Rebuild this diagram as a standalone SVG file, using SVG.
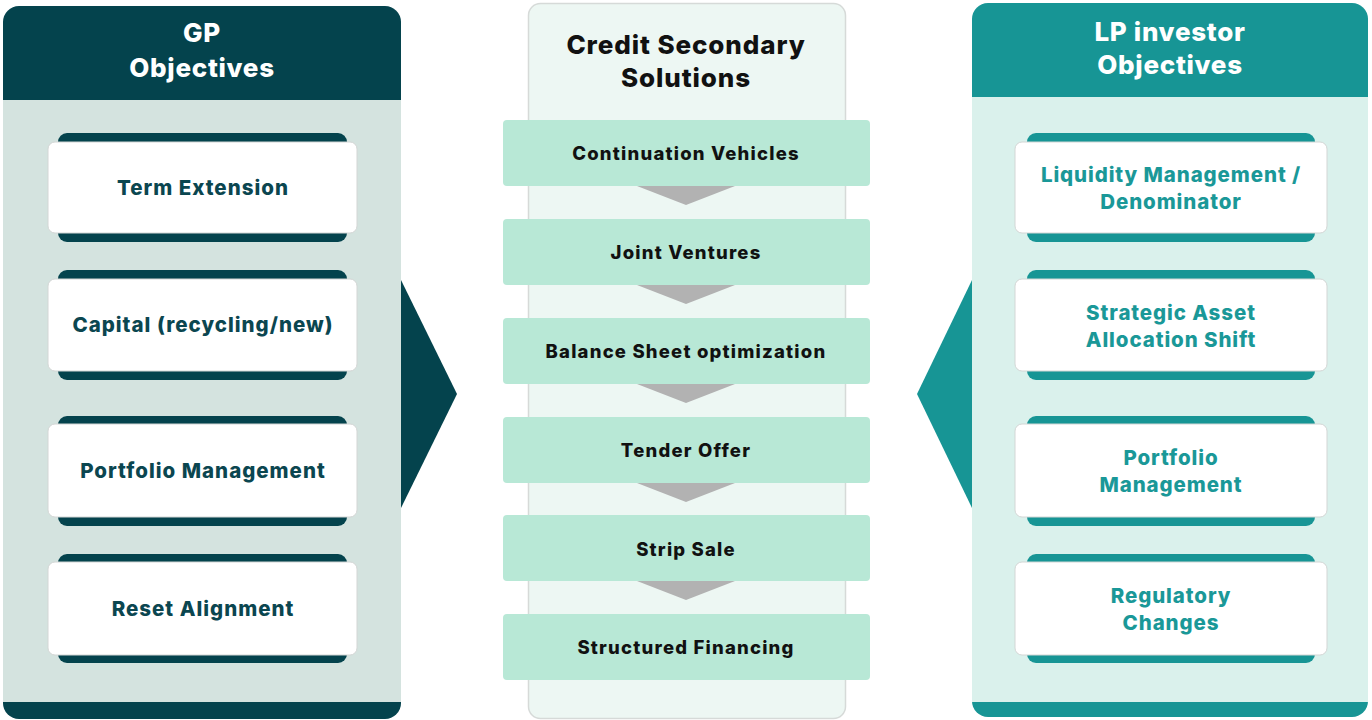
<svg xmlns="http://www.w3.org/2000/svg" width="1372" height="720" viewBox="0 0 1372 720">
<style>
text{font-family:Inter,"Noto Sans","Liberation Sans",sans-serif;font-weight:800;text-anchor:middle}
.hd{font-size:26px;fill:#ffffff;letter-spacing:0.7px}
.mt{font-size:26px;fill:#111111;letter-spacing:0.9px}
.it{font-size:18.5px;fill:#111111;letter-spacing:1.2px}
.gc{font-size:20.5px;fill:#0b4650;letter-spacing:1px}
.lc{font-size:20.5px;fill:#1a9898;letter-spacing:0.9px}
.card{fill:#ffffff;stroke:#d3d6d5;stroke-width:1}
.gtab{fill:#04434d}
.ltab{fill:#179595}
.item{fill:#b8e8d6}
.chev{fill:#b2b2b2}
</style>
<rect width="1372" height="720" fill="#ffffff"/>

<g id="gp-panel">
  <rect x="3" y="6" width="398" height="713" rx="16" fill="#04434d"/>
  <rect x="3" y="100" width="398" height="602" fill="#d4e3df"/>
  <text class="hd" x="202" y="42">GP</text>
  <text class="hd" x="202" y="77">Objectives</text>
</g>
<g id="gp-term">
  <rect class="gtab" x="58" y="133" width="289" height="109" rx="9"/>
  <rect class="card" x="48" y="142" width="309" height="91" rx="7"/>
  <text class="gc" x="203" y="195">Term Extension</text>
</g>
<g id="gp-capital">
  <rect class="gtab" x="58" y="270" width="289" height="110" rx="9"/>
  <rect class="card" x="48" y="279" width="309" height="92" rx="7"/>
  <text class="gc" x="203" y="332">Capital (recycling/new)</text>
</g>
<g id="gp-portfolio">
  <rect class="gtab" x="58" y="416" width="289" height="110" rx="9"/>
  <rect class="card" x="48" y="424" width="309" height="93" rx="7"/>
  <text class="gc" x="203" y="478">Portfolio Management</text>
</g>
<g id="gp-reset">
  <rect class="gtab" x="58" y="554" width="289" height="109" rx="9"/>
  <rect class="card" x="48" y="562" width="309" height="93" rx="7"/>
  <text class="gc" x="203" y="616">Reset Alignment</text>
</g>

<g id="lp-panel">
  <rect x="972" y="3" width="396" height="714" rx="16" fill="#179595"/>
  <rect x="972" y="97" width="396" height="605" fill="#daf1ec"/>
  <text class="hd" x="1170" y="41">LP investor</text>
  <text class="hd" x="1170" y="74">Objectives</text>
</g>
<g id="lp-liquidity">
  <rect class="ltab" x="1027" y="133" width="288" height="109" rx="9"/>
  <rect class="card" x="1015" y="142" width="312" height="91" rx="7"/>
  <text class="lc" x="1171" y="182">Liquidity Management /</text>
  <text class="lc" x="1171" y="209">Denominator</text>
</g>
<g id="lp-strategic">
  <rect class="ltab" x="1027" y="270" width="288" height="110" rx="9"/>
  <rect class="card" x="1015" y="279" width="312" height="92" rx="7"/>
  <text class="lc" x="1171" y="320">Strategic Asset</text>
  <text class="lc" x="1171" y="347">Allocation Shift</text>
</g>
<g id="lp-portfolio">
  <rect class="ltab" x="1027" y="416" width="288" height="110" rx="9"/>
  <rect class="card" x="1015" y="424" width="312" height="93" rx="7"/>
  <text class="lc" x="1171" y="465">Portfolio</text>
  <text class="lc" x="1171" y="492">Management</text>
</g>
<g id="lp-regulatory">
  <rect class="ltab" x="1027" y="554" width="288" height="109" rx="9"/>
  <rect class="card" x="1015" y="562" width="312" height="93" rx="7"/>
  <text class="lc" x="1171" y="603">Regulatory</text>
  <text class="lc" x="1171" y="630">Changes</text>
</g>

<g id="solutions-panel">
  <rect x="528.5" y="3.5" width="317" height="715" rx="12" fill="#edf7f3" stroke="#d6dad8" stroke-width="1.5"/>
  <text class="mt" x="686" y="54">Credit Secondary</text>
  <text class="mt" x="686" y="87">Solutions</text>
</g>

<g id="connectors">
  <polygon points="401,280 457,394 401,508" fill="#04434d"/>
  <polygon points="972,280 917,394 972,508" fill="#179595"/>
  <polygon class="chev" points="637,186 735,186 686,205"/>
  <polygon class="chev" points="637,285 735,285 686,304"/>
  <polygon class="chev" points="637,384 735,384 686,403"/>
  <polygon class="chev" points="637,483 735,483 686,502"/>
  <polygon class="chev" points="637,581 735,581 686,600"/>
</g>

<g id="sol-continuation">
  <rect class="item" x="503" y="120" width="367" height="66" rx="4"/>
  <text class="it" x="686" y="160">Continuation Vehicles</text>
</g>
<g id="sol-jv">
  <rect class="item" x="503" y="219" width="367" height="66" rx="4"/>
  <text class="it" x="686" y="259">Joint Ventures</text>
</g>
<g id="sol-balance">
  <rect class="item" x="503" y="318" width="367" height="66" rx="4"/>
  <text class="it" x="686" y="358">Balance Sheet optimization</text>
</g>
<g id="sol-tender">
  <rect class="item" x="503" y="417" width="367" height="66" rx="4"/>
  <text class="it" x="686" y="457">Tender Offer</text>
</g>
<g id="sol-strip">
  <rect class="item" x="503" y="515" width="367" height="66" rx="4"/>
  <text class="it" x="686" y="556">Strip Sale</text>
</g>
<g id="sol-structured">
  <rect class="item" x="503" y="614" width="367" height="66" rx="4"/>
  <text class="it" x="686" y="654">Structured Financing</text>
</g>
</svg>
